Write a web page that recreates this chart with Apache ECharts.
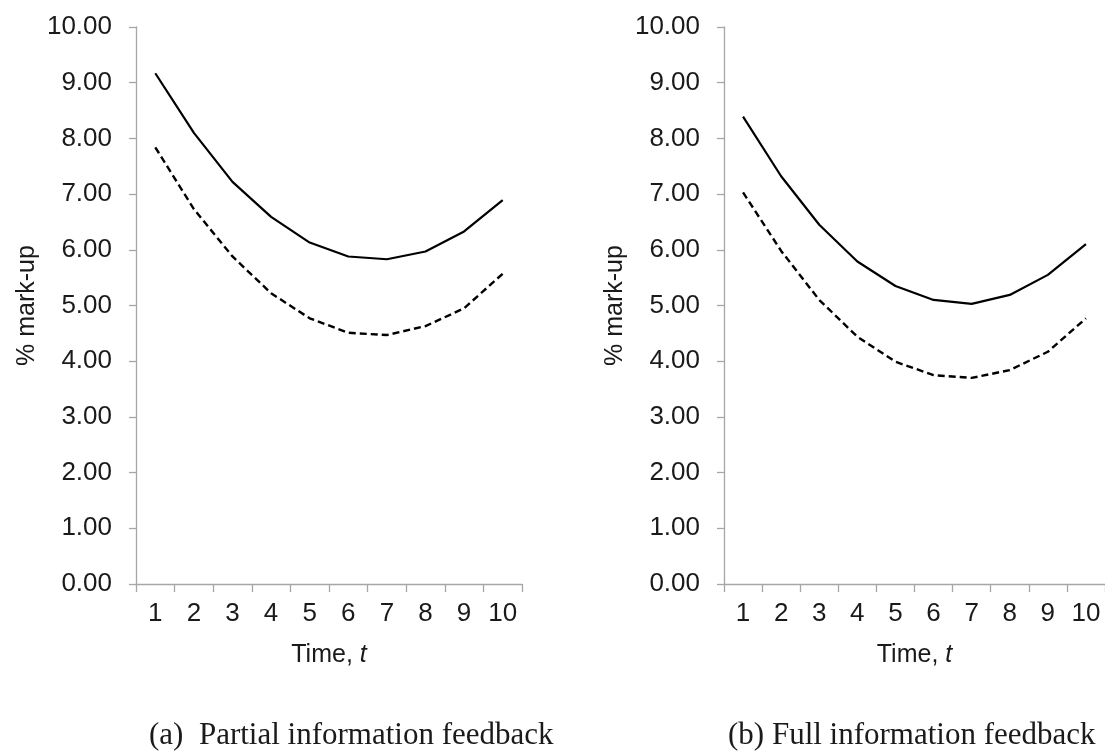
<!DOCTYPE html>
<html>
<head>
<meta charset="utf-8">
<script src="https://cdn.jsdelivr.net/npm/echarts@6/dist/echarts.min.js"></script>
<style>html,body{margin:0;padding:0;background:#fff;}#c{width:1105px;height:751px;}</style>
</head>
<body>
<div id="c"></div>
<script>
var categories = ['1','2','3','4','5','6','7','8','9','10'];
var yTicks = [0,1,2,3,4,5,6,7,8,9,10];
var partialSolid  = [9.17, 8.10, 7.22, 6.59, 6.13, 5.88, 5.83, 5.97, 6.33, 6.89];
var partialDashed = [7.84, 6.73, 5.88, 5.22, 4.77, 4.51, 4.47, 4.63, 4.95, 5.57];
var fullSolid     = [8.39, 7.32, 6.45, 5.79, 5.35, 5.10, 5.03, 5.19, 5.55, 6.10];
var fullDashed    = [7.03, 5.98, 5.10, 4.44, 3.99, 3.75, 3.70, 3.84, 4.17, 4.77];
var captions = ['(a)  Partial information feedback', '(b) Full information feedback'];

var sans = "'Liberation Sans', Arial, sans-serif";
var serif = "'Liberation Serif', 'Times New Roman', serif";
var axisGray = '#a6a6a6';
var textCol = '#1a1a1a';

function xAx(gi){
  return {
    type:'category', gridIndex:gi, data:categories, boundaryGap:true,
    axisLine:{show:true, lineStyle:{color:axisGray, width:1.3}},
    axisTick:{show:true, length:8, lineStyle:{color:axisGray, width:1.3}},
    axisLabel:{color:textCol, fontSize:26, fontFamily:sans, margin:17},
    splitLine:{show:false},
    name:'{a|Time, }{b|t}', nameLocation:'middle', nameGap:59,
    nameTextStyle:{color:textCol, fontSize:25, fontFamily:sans,
      rich:{a:{fontSize:25, fontFamily:sans, color:textCol}, b:{fontSize:25, fontFamily:sans, color:textCol, fontStyle:'italic'}}}
  };
}
function yAx(gi){
  return {
    type:'value', gridIndex:gi, min:yTicks[0], max:yTicks[yTicks.length-1], interval:1,
    axisLine:{show:true, lineStyle:{color:axisGray, width:1.3}},
    axisTick:{show:true, length:7, lineStyle:{color:axisGray, width:1.3}},
    axisLabel:{color:textCol, fontSize:26, fontFamily:sans, margin:24, formatter:function(v){return v.toFixed(2);}},
    splitLine:{show:false},
    name:'% mark-up', nameLocation:'middle', nameRotate:90, nameGap:96,
    nameTextStyle:{color:textCol, fontSize:25, fontFamily:sans}
  };
}
function line(gi, data, dashed){
  return {
    type:'line', xAxisIndex:gi, yAxisIndex:gi, data:data, symbol:'none', smooth:false,
    lineStyle:{color:'#000', width: dashed ? 2.4 : 2.2, type: dashed ? [7,4] : 'solid'},
    silent:true
  };
}
var chart = echarts.init(document.getElementById('c'));
chart.setOption({
  animation:false,
  backgroundColor:'#fff',
  grid:[
    {left:136, top:27, width:386, height:557},
    {left:724, top:27, width:386, height:557}
  ],
  xAxis:[xAx(0), xAx(1)],
  yAxis:[yAx(0), yAx(1)],
  series:[
    line(0, partialSolid, false),
    line(0, partialDashed, true),
    line(1, fullSolid, false),
    line(1, fullDashed, true)
  ],
  title:[
    {text:captions[0], left:144, top:715, textStyle:{fontFamily:serif, fontWeight:'normal', fontSize:31, color:textCol}},
    {text:captions[1], left:723, top:715, textStyle:{fontFamily:serif, fontWeight:'normal', fontSize:31, color:textCol}}
  ]
});
</script>
</body>
</html>
